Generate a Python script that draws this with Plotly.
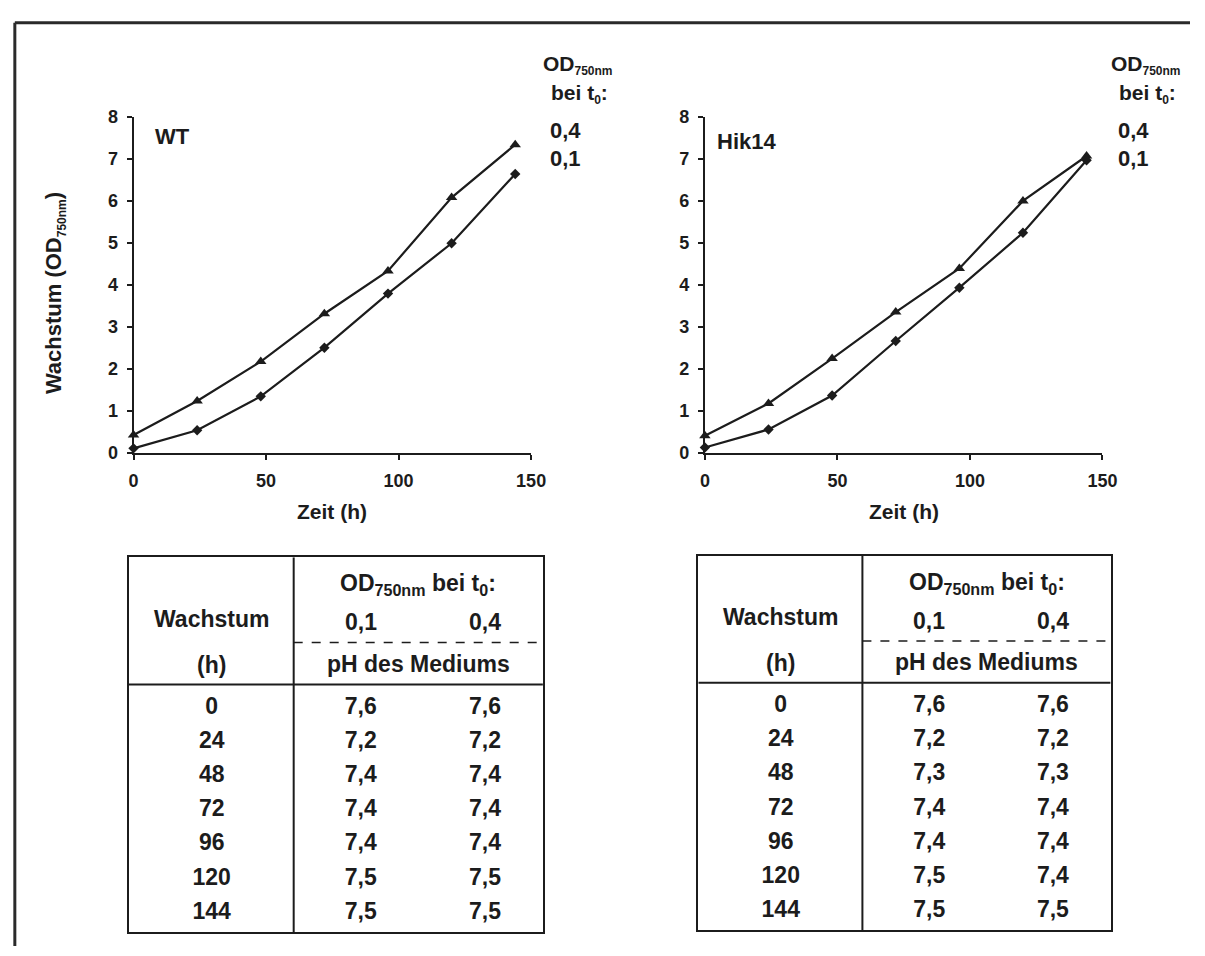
import plotly.graph_objects as go

# ---------------- data ----------------
hours = [0, 24, 48, 72, 96, 120, 144]

wt_od04 = [0.42, 1.23, 2.17, 3.31, 4.33, 6.08, 7.34]
wt_od01 = [0.10, 0.53, 1.34, 2.50, 3.79, 4.99, 6.64]
hik_od04 = [0.40, 1.17, 2.24, 3.35, 4.39, 6.00, 7.07]
hik_od01 = [0.12, 0.55, 1.36, 2.66, 3.93, 5.24, 6.97]

ph_wt_01 = [7.6, 7.2, 7.4, 7.4, 7.4, 7.5, 7.5]
ph_wt_04 = [7.6, 7.2, 7.4, 7.4, 7.4, 7.5, 7.5]
ph_hik_01 = [7.6, 7.2, 7.3, 7.4, 7.4, 7.5, 7.5]
ph_hik_04 = [7.6, 7.2, 7.3, 7.4, 7.4, 7.4, 7.5]

x_ticks = [0, 50, 100, 150]
y_ticks = [0, 1, 2, 3, 4, 5, 6, 7, 8]
strain_names = ["WT", "Hik14"]
start_od_labels = ["0,4", "0,1"]

# ---------------- style ----------------
W, H = 1205, 956
FONT = "Liberation Sans, Arial, Helvetica, sans-serif"
INK = "#1c1c1c"


def px_x(p):
    return p / W


def px_y(p):
    return 1 - p / H


def fmt(v):
    return f"{v:.1f}".replace(".", ",")


fig = go.Figure()

# ---------------- growth curves ----------------
charts = [
    dict(xa="x", ya="y", od04=wt_od04, od01=wt_od01),
    dict(xa="x2", ya="y2", od04=hik_od04, od01=hik_od01),
]
for c in charts:
    fig.add_trace(go.Scatter(
        x=hours, y=c["od04"], xaxis=c["xa"], yaxis=c["ya"], mode="lines+markers",
        line=dict(color=INK, width=2.2), cliponaxis=False,
        marker=dict(symbol="triangle-up", size=10, color=INK)))
    fig.add_trace(go.Scatter(
        x=hours, y=c["od01"], xaxis=c["xa"], yaxis=c["ya"], mode="lines+markers",
        line=dict(color=INK, width=2.2), cliponaxis=False,
        marker=dict(symbol="diamond", size=8, color=INK)))

axis_common = dict(showline=True, linecolor=INK, linewidth=2, showgrid=False,
                   zeroline=False, ticks="outside", ticklen=5, tickwidth=2,
                   tickcolor=INK,
                   tickfont=dict(family=FONT, size=18, color=INK, weight="bold"))

ydom = [px_y(452), px_y(109.3)]
fig.update_layout(
    xaxis=dict(domain=[px_x(130.7), px_x(535)], range=[0, 150], tickvals=x_ticks,
               anchor="y", ticklabelstandoff=6, **axis_common),
    yaxis=dict(domain=ydom, range=[0, 8], tickvals=y_ticks, anchor="x",
               ticklabelstandoff=5, **axis_common),
    xaxis2=dict(domain=[px_x(711.7), px_x(1116)], range=[0, 150], tickvals=x_ticks,
                anchor="y2", ticklabelstandoff=6, **axis_common),
    yaxis2=dict(domain=ydom, range=[0, 8], tickvals=y_ticks, anchor="x2",
                ticklabelstandoff=5, **axis_common),
)

ann = []
# strain labels
ann.append(dict(text="<b>WT</b>", x=px_x(150), y=px_y(129.5), xref="paper", yref="paper",
                xanchor="left", yanchor="middle", showarrow=False,
                font=dict(family=FONT, size=22, color=INK)))
ann.append(dict(text="<b>Hik14</b>", x=px_x(722), y=px_y(134), xref="paper", yref="paper",
                xanchor="left", yanchor="middle", showarrow=False,
                font=dict(family=FONT, size=22, color=INK)))

# legend-like labels on the right of each chart
for lx in (545, 1123):
    ann.append(dict(text="<b>OD<sub><span style='font-size:12px'>750nm</span></sub></b>",
                    x=px_x(lx), y=px_y(56), xref="paper", yref="paper",
                    xanchor="left", yanchor="middle", showarrow=False,
                    font=dict(family=FONT, size=21, color=INK)))
    ann.append(dict(text="<b>bei t<sub><span style='font-size:12px'>0</span></sub>:</b>",
                    x=px_x(lx + 8), y=px_y(86), xref="paper", yref="paper",
                    xanchor="left", yanchor="middle", showarrow=False,
                    font=dict(family=FONT, size=21, color=INK)))
    for lbl, yy in zip(start_od_labels, (123, 152)):
        ann.append(dict(text=f"<b>{lbl}</b>", x=px_x(lx + 7), y=px_y(yy),
                        xref="paper", yref="paper", xanchor="left", yanchor="middle",
                        showarrow=False, font=dict(family=FONT, size=22, color=INK)))

# axis titles
ann.append(dict(text="<b>Wachstum (OD<sub><span style='font-size:12px'>750nm</span></sub>)</b>",
                x=px_x(51), y=px_y(289), xref="paper", yref="paper", textangle=-90,
                xanchor="center", yanchor="middle", showarrow=False,
                font=dict(family=FONT, size=22, color=INK)))
for cx in ((130.7 + 535) / 2, (711.7 + 1116) / 2):
    ann.append(dict(text="<b>Zeit (h)</b>", x=px_x(cx), y=px_y(512), xref="paper",
                    yref="paper", xanchor="center", yanchor="middle", showarrow=False,
                    font=dict(family=FONT, size=21, color=INK)))

# ---------------- tables ----------------
COL_H, COL_1, COL_2, DIV = 0.2, 0.56, 0.86, 0.398
Y_TOP, Y_BOT = -4.43, 6.57
tables = [
    dict(xa="x3", ya="y3", xd=[126, 547], yd=[559, 942], p1=ph_wt_01, p4=ph_wt_04),
    dict(xa="x4", ya="y4", xd=[705, 1124.3], yd=[557.5, 940], p1=ph_hik_01, p4=ph_hik_04),
]
tbl_axis = dict(showline=True, mirror=True, linecolor=INK, linewidth=2, showgrid=False,
                zeroline=False, showticklabels=False, ticks="")
shapes = []
tf = dict(family=FONT, size=23, color=INK, weight="bold")
for i, t in enumerate(tables):
    n = str(i + 3)
    fig.update_layout(**{
        "xaxis" + n: dict(domain=[px_x(t["xd"][0]), px_x(t["xd"][1])], range=[0, 1],
                          anchor="y" + n, **tbl_axis),
        "yaxis" + n: dict(domain=[px_y(t["yd"][1]), px_y(t["yd"][0])], range=[Y_BOT, Y_TOP],
                          anchor="x" + n, **tbl_axis),
    })
    rows = list(range(len(hours)))
    for colx, vals in ((COL_H, [str(h) for h in hours]),
                       (COL_1, [fmt(v) for v in t["p1"]]),
                       (COL_2, [fmt(v) for v in t["p4"]])):
        fig.add_trace(go.Scatter(x=[colx] * len(rows), y=rows, text=vals, mode="text",
                                 xaxis=t["xa"], yaxis=t["ya"], textfont=tf,
                                 textposition="middle center", cliponaxis=False))
    shapes.append(dict(type="line", xref=t["xa"], yref=t["ya"], x0=DIV, x1=DIV,
                       y0=Y_TOP, y1=Y_BOT, line=dict(color=INK, width=2)))
    shapes.append(dict(type="line", xref=t["xa"], yref=t["ya"], x0=0, x1=1,
                       y0=-0.70, y1=-0.70, line=dict(color=INK, width=2)))
    shapes.append(dict(type="line", xref=t["xa"], yref=t["ya"], x0=DIV, x1=1,
                       y0=-1.93, y1=-1.93, line=dict(color=INK, width=1.5, dash="dash")))
    hdr = [
        ("OD<sub>750nm</sub> bei t<sub>0</sub>:", (DIV + 1) / 2, -3.63),
        ("Wachstum", COL_H, -2.63),
        ("0,1", COL_1, -2.52),
        ("0,4", COL_2, -2.52),
        ("(h)", COL_H, -1.27),
        ("pH des Mediums", (DIV + 1) / 2, -1.31),
    ]
    for txt, hx, hy in hdr:
        ann.append(dict(text=f"<b>{txt}</b>", x=hx, y=hy, xref=t["xa"], yref=t["ya"],
                        xanchor="center", yanchor="middle", showarrow=False,
                        font=dict(family=FONT, size=23, color=INK)))

# outer frame (top and left edges)
shapes.append(dict(type="line", xref="paper", yref="paper", x0=px_x(10), x1=1,
                   y0=px_y(13), y1=px_y(13), line=dict(color="#2a2a2a", width=3)))
shapes.append(dict(type="line", xref="paper", yref="paper", x0=px_x(10), x1=px_x(10),
                   y0=px_y(13), y1=0, line=dict(color="#2a2a2a", width=3)))

fig.update_layout(
    width=W, height=H, margin=dict(l=0, r=0, t=0, b=0),
    paper_bgcolor="white", plot_bgcolor="white", showlegend=False,
    annotations=ann, shapes=shapes,
)

fig.write_html(
    "out.html",
    config={"displayModeBar": False},
    post_script="document.body.style.margin='0';document.body.style.overflow='hidden';",
)
